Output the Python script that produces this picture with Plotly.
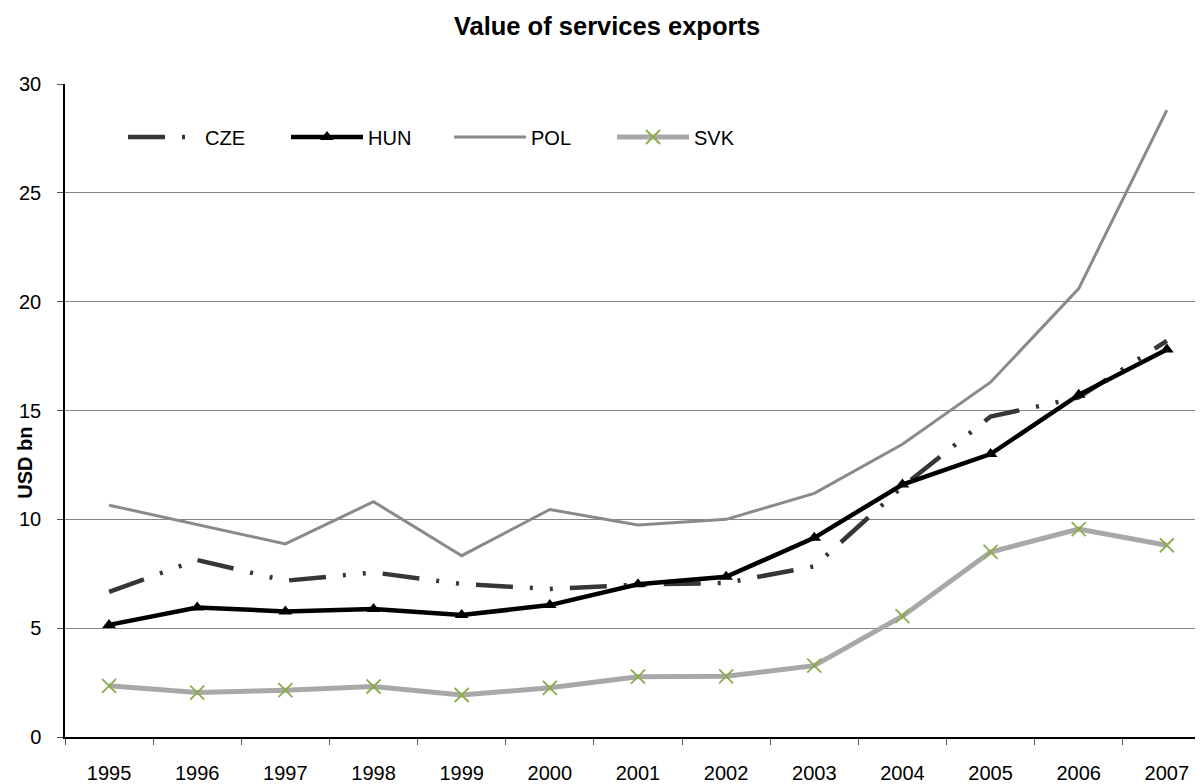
import plotly.graph_objects as go

years = ["1995", "1996", "1997", "1998", "1999", "2000", "2001",
         "2002", "2003", "2004", "2005", "2006", "2007"]
cze = [6.67, 8.13, 7.18, 7.56, 7.03, 6.80, 7.00, 7.08, 7.84, 11.5, 14.72, 15.6, 18.2]
hun = [5.15, 5.95, 5.77, 5.88, 5.60, 6.06, 7.02, 7.36, 9.15, 11.6, 13.0, 15.72, 17.8]
pol = [10.65, 9.76, 8.87, 10.81, 8.33, 10.45, 9.74, 10.0, 11.19, 13.45, 16.3, 20.6, 28.8]
svk = [2.35, 2.04, 2.15, 2.32, 1.93, 2.26, 2.77, 2.79, 3.28, 5.55, 8.5, 9.55, 8.81]

FONT = "Liberation Sans, Arial, sans-serif"

# page body has an 8px margin, so the figure is 8px smaller than the window
W, H = 1195, 776
ML, MT, MB, MR = 57, 76, 47, 0
PW = W - ML - MR
PH = H - MT - MB

fig = go.Figure()
fig.add_trace(go.Scatter(
    x=years, y=cze, name="CZE", mode="lines",
    line=dict(color="#363636", width=4.5, dash="37px,17px,3px,17px,3px,17px"),
))
fig.add_trace(go.Scatter(
    x=years, y=hun, name="HUN", mode="lines+markers",
    line=dict(color="#000000", width=4.5),
    marker=dict(symbol="triangle-up", size=12, color="#000000"),
))
fig.add_trace(go.Scatter(
    x=years, y=pol, name="POL", mode="lines",
    line=dict(color="#8a8a8a", width=3),
))
fig.add_trace(go.Scatter(
    x=years, y=svk, name="SVK", mode="lines+markers",
    line=dict(color="#a8a8a8", width=5),
    marker=dict(symbol="x-thin", size=14, color="#8aad4c",
                line=dict(color="#8aad4c", width=1.8)),
))

fig.update_layout(
    width=W, height=H,
    margin=dict(l=ML, r=MR, t=MT, b=MB),
    paper_bgcolor="white", plot_bgcolor="white",
    font=dict(family=FONT, size=20, color="#000000"),
    title=dict(text="<b>Value of services exports</b>", x=(607 - 8) / W, xanchor="center",
               y=1 - (26 - 8) / H, yanchor="middle",
               font=dict(family=FONT, size=25.5, color="#000000")),
    showlegend=True,
    legend=dict(orientation="h", x=(115 - ML) / PW, xanchor="left",
                y=(737 - 137) / PH, yanchor="middle",
                bgcolor="rgba(0,0,0,0)", entrywidth=76, entrywidthmode="pixels",
                font=dict(family=FONT, size=20, color="#000000"),
                itemwidth=72),
    xaxis=dict(
        type="category", range=[-0.5, 12.41], tickson="boundaries",
        showgrid=False, showline=True, linecolor="#000000", linewidth=1.5,
        ticks="outside", ticklen=6, tickcolor="#555555", tickwidth=1,
        ticklabelstandoff=17,
        tickfont=dict(family=FONT, size=20, color="#000000"),
        zeroline=False, fixedrange=True,
    ),
    yaxis=dict(
        range=[0, 30], dtick=5, tick0=0,
        showgrid=True, gridcolor="#868686", gridwidth=1,
        showline=True, linecolor="#000000", linewidth=1.5,
        ticks="outside", ticklen=6, tickcolor="#555555", tickwidth=1,
        ticklabelstandoff=12,
        tickfont=dict(family=FONT, size=20, color="#000000"),
        zeroline=False, fixedrange=True,
    ),
    annotations=[dict(
        text="<b>USD bn</b>", textangle=-90, showarrow=False,
        xref="paper", yref="paper", x=(25 - 65) / PW, y=(737 - 462.7) / PH,
        xanchor="center", yanchor="middle",
        font=dict(family=FONT, size=20, color="#000000"),
    )],
)

fig.write_html("out.html")
